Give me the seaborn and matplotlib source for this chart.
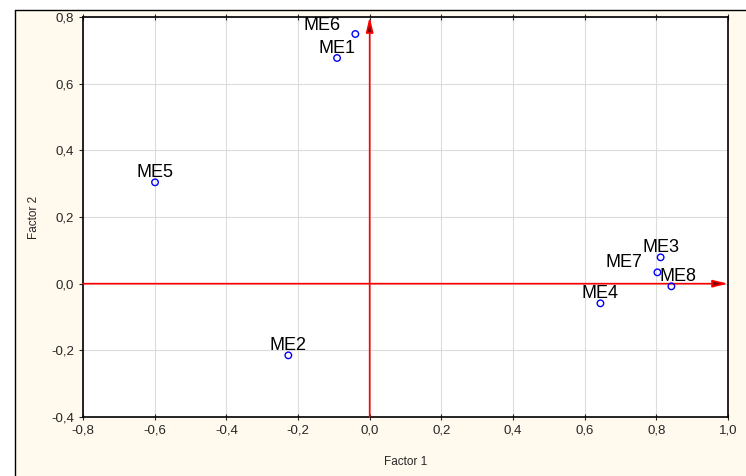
import numpy as np
import pandas as pd
import matplotlib
matplotlib.use("Agg")
import matplotlib.pyplot as plt
import seaborn as sns
from matplotlib.ticker import FuncFormatter, MultipleLocator

# factor loadings
labels = ["ME1", "ME2", "ME3", "ME4", "ME5", "ME6", "ME7", "ME8"]
factor1 = [-0.091, -0.227, 0.812, 0.644, -0.599, -0.040, 0.803, 0.842]
factor2 = [0.677, -0.215, 0.079, -0.059, 0.304, 0.749, 0.034, -0.008]

# label offsets in points (dx, dy) from each point
offsets = {"ME6": (-24, 0), "ME7": (-24, 1), "ME8": (5, 1)}

df = pd.DataFrame({"label": labels, "f1": factor1, "f2": factor2})

sns.set_style("white")
plt.rcParams["font.family"] = ["Liberation Sans", "DejaVu Sans"]

fig = plt.figure(figsize=(7.46, 4.76), dpi=100)
fig.patch.set_facecolor("white")

# cream backing panel with black left/top edge
panel = plt.Rectangle((15 / 746, -0.1), 1.2, 1 - 10 / 476 + 0.1,
                      transform=fig.transFigure, facecolor="#fff9ee",
                      edgecolor="none", zorder=-10)
fig.patches.append(panel)
fig.add_artist(plt.Line2D([15 / 746, 15 / 746], [0, 1 - 10 / 476],
                          transform=fig.transFigure, color="black", lw=1, zorder=-5))
fig.add_artist(plt.Line2D([15 / 746, 1], [1 - 10 / 476, 1 - 10 / 476],
                          transform=fig.transFigure, color="black", lw=1, zorder=-5))

ax = fig.add_axes([83 / 746, 1 - 417 / 476, (728 - 83) / 746, (417 - 17) / 476])
ax.set_zorder(5)
ax.set_facecolor("white")

ax.set_xlim(-0.8, 1.0)
ax.set_ylim(-0.4, 0.8)
ax.xaxis.set_major_locator(MultipleLocator(0.2))
ax.yaxis.set_major_locator(MultipleLocator(0.2))
fmt = FuncFormatter(lambda v, p: f"{v:.1f}".replace(".", ",").replace("-0,0", "0,0"))
ax.xaxis.set_major_formatter(fmt)
ax.yaxis.set_major_formatter(fmt)
ax.grid(True, color="#dcdcdc", lw=0.8)
ax.set_axisbelow(True)

# axis arrows
arrow = dict(arrowstyle="-|>,head_length=0.9,head_width=0.22",
             ec="red", fc="#7a0000", lw=1.2, shrinkA=0, shrinkB=0)
ax.annotate("", xy=(1.0, 0), xytext=(-0.8, 0), arrowprops=arrow)
ax.annotate("", xy=(0, 0.8), xytext=(0, -0.4), arrowprops=arrow)

sns.scatterplot(data=df, x="f1", y="f2", ax=ax, marker="o", s=22,
                facecolors="none", edgecolor="blue", linewidth=1, zorder=5)

for lab, x, y in zip(labels, factor1, factor2):
    dx, dy = offsets.get(lab, (0, 1))
    ax.annotate(lab, (x, y), xytext=(dx, dy), textcoords="offset points",
                ha="center", va="bottom", fontsize=13, color="black", zorder=6)

ax.set_xlabel("Factor 1", fontsize=8.5, labelpad=14)
ax.set_ylabel("Factor 2", fontsize=8.5, labelpad=8)
ax.tick_params(axis="both", labelsize=9.5, length=3, direction="out",
               bottom=True, left=True)
ax.tick_params(axis="x", top=True, direction="inout", length=4)
for s in ax.spines.values():
    s.set_color("black")
    s.set_linewidth(1.2)

fig.savefig("out.png", dpi=100)
